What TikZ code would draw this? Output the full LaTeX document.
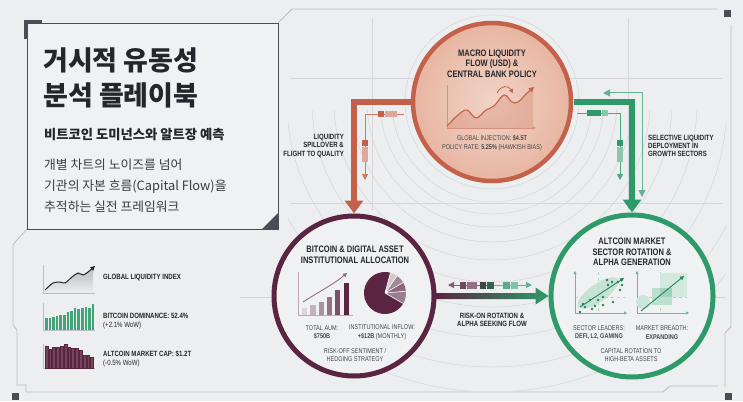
\documentclass[tikz,border=0pt]{standalone}
\usepackage{fontspec}
\setmainfont{Liberation Sans}
\newfontfamily\kr{Noto Sans CJK KR}
\newfontfamily\cf[FakeStretch=0.8]{Liberation Sans}
\usetikzlibrary{arrows.meta,calc}
\definecolor{bg}{HTML}{ECEEF0}
\definecolor{boxbg}{HTML}{EFF1F3}
\definecolor{ink}{HTML}{24262B}
\definecolor{orng}{HTML}{C4614A}
\definecolor{salmonin}{HTML}{F1D3C6}
\definecolor{salmonout}{HTML}{E8B6A2}
\definecolor{maroon}{HTML}{5A2540}
\definecolor{grn}{HTML}{2E9A6A}
\definecolor{framec}{HTML}{B9BDC4}
\definecolor{faint}{HTML}{D3D6DB}
\definecolor{darksq}{HTML}{4A4D55}
\tikzset{
  ctitle/.style={font=\cf\bfseries\fontsize{9.4}{10.6}\selectfont, align=center, inner sep=0pt, text=ink},
  csmall/.style={font=\cf\fontsize{6.9}{8.6}\selectfont, align=center, inner sep=0pt, text=ink!85},
  sidelbl/.style={font=\cf\bfseries\fontsize{7.6}{8.2}\selectfont, inner sep=0pt, text=ink},
  leglbl/.style={font=\cf\bfseries\fontsize{7.6}{9}\selectfont, inner sep=0pt, text=ink, anchor=west, align=left},
  bigring/.style={circle, minimum size=158pt, inner sep=0pt, line width=5pt},
  thickarrow/.style={line width=6pt, -{Triangle[width=18pt,length=13pt]}},
  thinarrow/.style={line width=1pt, -{Triangle[width=6pt,length=6pt]}},
  framel/.style={draw=framec, line width=0.8pt},
}
\begin{document}
\begin{tikzpicture}[x=1pt,y=-1pt]
\useasboundingbox (0,0) rectangle (743,401);
\fill[bg] (0,0) rectangle (743,401);

% faint background grid and arcs
\draw[faint, line width=0.5pt] (290,78) -- (722,78) (290,203) -- (722,203)
  (372,18) -- (372,210) (628,18) -- (628,210) (240,297) -- (725,297);
\draw[faint, line width=0.5pt] (492,102) circle[radius=87];
\begin{scope}
  \clip (288,110) rectangle (726,390);
  \foreach \r in {100,112,125,140,158,180,205,235,265,290}
    \draw[faint, line width=0.5pt] (492,102) circle[radius=\r];
\end{scope}

% outer decorative frame
\draw[framel] (278,23) -- (292,9) -- (717,9);
\fill[darksq] (724,10) rectangle (731,17);
\draw[framel] (731,25) -- (731,327) -- (725,333) -- (725,387);
\fill[darksq] (725,393) rectangle (732,400);
\draw[framel] (27,229) -- (17,240) -- (13,245) -- (13,325) -- (17,330) -- (17,385) -- (26,385) -- (26,392) -- (663,392) -- (670,386) -- (718,386);
\fill[darksq] (12,393) rectangle (19,400);

% title box
\draw[fill=boxbg, draw=darksq, line width=0.8pt] (27,23) rectangle (278,229);
\draw[darksq, line width=3pt] (25,39) -- (25,21.5) -- (42,21.5);
\fill[darksq] (262,229) -- (278,229) -- (278,213) -- cycle;
\node[font=\kr\bfseries\fontsize{27}{35}\selectfont, anchor=west, align=left, inner sep=0pt, text=ink] (ttl) at (43,77.5) {거시적 유동성\\분석 플레이북};
\node[font=\kr\bfseries\fontsize{13.3}{16}\selectfont, anchor=west, inner sep=0pt, text=ink] (sub) at (44,135) {비트코인 도미넌스와 알트장 예측};
\node[font=\kr\fontsize{12.8}{21}\selectfont, anchor=west, align=left, inner sep=0pt, text=ink!90] (body) at (44,186) {개별 차트의 노이즈를 넘어\\기관의 자본 흐름(Capital Flow)을\\추적하는 실전 프레임워크};

% circle positions (for connectors)
\coordinate (mc) at (492,102);
\coordinate (bc) at (354,296);
\coordinate (ac) at (632,296);
\path (mc) node[bigring] (macro) {};
\path (bc) node[bigring, minimum size=160pt] (btc) {};
\path (ac) node[bigring, minimum size=162pt] (alt) {};

% thick connectors
\draw[orng, thickarrow] (macro.west) -| (btc.north);
\draw[grn, thickarrow, line width=5.5pt] (macro.east) -| (alt.north);
\shade[left color=maroon, right color=grn]
  ($(btc.east)+(0,-3)$) -- ($(alt.west)+(-13,-3)$) -- ($(alt.west)+(-13,-8.5)$) -- (alt.west)
  -- ($(alt.west)+(-13,8.5)$) -- ($(alt.west)+(-13,3)$) -- ($(btc.east)+(0,3)$) -- cycle;

% thin orange connector
\coordinate (o1) at (404,114);
\coordinate (o2) at (365,180);
\draw[orng!85, thinarrow] (o1) -| (o2);
\fill[orng] (378,111) rectangle (384,117);
\fill[orng!55] (385,111) rectangle (397,117);
\fill[orng] (362,140) rectangle (368,146);
\fill[orng!55] (362,147) rectangle (368,162);

% thin green connectors
\coordinate (g1) at (577,113);
\coordinate (g2) at (620,180);
\draw[grn!85, thinarrow] (g1) -| (g2);
\fill[grn] (587,110) rectangle (601,116);
\fill[grn!55] (602,110) rectangle (608,116);
\fill[grn] (617,140) rectangle (623,146);
\fill[grn!55] (617,147) rectangle (623,162);
\coordinate (g3) at (603,93);
\coordinate (g4) at (642,197);
\draw[grn!75, line width=1pt, {Triangle[width=7pt,length=7pt]}-{Triangle[width=7pt,length=7pt]}] (g3) -| (g4);

% thin middle double arrow
\coordinate (d1) at (448,285);
\coordinate (dm) at (490,285);
\coordinate (d2) at (532,285);
\draw[maroon!75, line width=0.9pt, {Triangle[width=6pt,length=6pt]}-] (d1) -- (dm);
\draw[grn!75, line width=0.9pt, -{Triangle[width=6pt,length=6pt]}] (dm) -- (d2);
\fill[maroon!85] (460,281.5) rectangle (466,288.5);
\fill[maroon!65] (467,281.5) rectangle (477,288.5);
\fill[maroon!55!grn!80!black] (480,281.5) rectangle (486,288.5);
\fill[maroon!35!grn!85!black] (487,281.5) rectangle (494,288.5);
\fill[grn!80] (503,281.5) rectangle (510,288.5);
\fill[grn!60] (511,281.5) rectangle (518,288.5);

% circles drawn on top
\path (mc) node[bigring, draw=orng, line width=4.5pt, inner color=salmonin, outer color=salmonout] {};
\path (bc) node[bigring, minimum size=160pt, draw=maroon, fill=boxbg] {};
\path (ac) node[bigring, minimum size=162pt, draw=grn, fill=boxbg] {};

% ---- macro circle contents
\node[ctitle] (mtitle) at (492,63.5) {MACRO LIQUIDITY\\FLOW (USD) \&\\CENTRAL BANK POLICY};
\fill[orng, opacity=0.22] plot[smooth, tension=0.6] coordinates {(447,126) (458,115) (467,110) (476,118) (486,110) (494,106) (504,95) (512,102) (518,102) (526,94) (533,88)} -- (533,128) -- (447,128) -- cycle;
\draw[orng!70, line width=0.6pt] (447,85) -- (447,128);
\draw[orng!70, line width=0.6pt, -{Triangle[width=3.5pt,length=3.5pt]}] (447,128) -- (536,128);
\draw[orng, line width=1.1pt, -{Triangle[width=5pt,length=5pt]}] plot[smooth, tension=0.6] coordinates {(447,126) (458,115) (467,110) (476,118) (486,110) (494,106) (504,95) (512,102) (518,102) (526,94) (534,87)};
\draw[orng, line width=0.8pt, -{Triangle[width=4pt,length=4pt]}] (497,93) .. controls (501,85) and (508,85) .. (513,93);
\node[csmall] (minfo) at (492,143) {GLOBAL INJECTION: \textbf{\$4.5T}\\POLICY RATE: \textbf{5.25\%} (HAWKISH BIAS)};

% ---- bitcoin circle contents
\node[ctitle] (btitle) at (355,254.5) {BITCOIN \& DIGITAL ASSET\\INSTITUTIONAL ALLOCATION};
\draw[maroon!40, line width=0.6pt] (298,272) -- (298,315) -- (353,315);
\foreach \h/\c [count=\i from 0] in {308/20,305/35,302/50,297/65,290/80,283/100}
  \fill[maroon!\c!white] ({302+\i*8.3},\h) rectangle ++(5.2,{315-\h});
\draw[maroon!70, line width=0.8pt, -{Triangle[width=4pt,length=4pt]}] (303,302) .. controls (320,291) and (334,284) .. (347,273);
\fill[maroon] (385,293) -- ++(30:21) arc[start angle=30, end angle=285, radius=21] -- cycle;
\fill[maroon!25!white] (385,293) -- ++(-75:21) arc[start angle=-75, end angle=-55, radius=21] -- cycle;
\fill[maroon!55!white] (385,293) -- ++(-55:21) arc[start angle=-55, end angle=-30, radius=21] -- cycle;
\fill[maroon!70!white] (385,293) -- ++(-30:21) arc[start angle=-30, end angle=-5, radius=21] -- cycle;
\fill[maroon!60!white] (385,293) -- ++(-5:21) arc[start angle=-5, end angle=30, radius=21] -- cycle;
\draw[white, line width=0.6pt] (385,293) -- ++(-75:21) (385,293) -- ++(-55:21) (385,293) -- ++(-30:21) (385,293) -- ++(-5:21) (385,293) -- ++(30:21);
\node[csmall] (aum) at (322,332.5) {TOTAL AUM:\\\textbf{\$750B}};
\node[csmall] (inflow) at (382,332.5) {INSTITUTIONAL INFLOW:\\\textbf{+\$12B} (MONTHLY)};
\node[csmall] (riskoff) at (355,355) {RISK-OFF SENTIMENT /\\HEDGING STRATEGY};

% ---- altcoin circle contents
\node[ctitle] (atitle) at (632,252) {ALTCOIN MARKET\\SECTOR ROTATION \&\\ALPHA GENERATION};
\draw[grn!40, line width=0.5pt, dashed] (575,297) -- (625,297) (598,272) -- (598,313);
\draw[grn!70, line width=0.6pt, -{Triangle[width=3pt,length=3pt]}] (575,313) -- (575,271);
\draw[grn!70, line width=0.6pt, -{Triangle[width=3pt,length=3pt]}] (575,313) -- (627,313);
\fill[grn!30, opacity=0.85, rotate around={35:(598,293)}] (598,293) ellipse[x radius=24, y radius=9];
\foreach \p in {(580,312),(585,307),(590,300),(595,306),(598,300),(603,297),(607,280),(608,285),(612,282),(613,302),(618,282),(620,290),(622,285),(583,304),(592,309),(603,305)}
  \fill[grn!85!black] \p circle[radius=1.4];
\draw[grn!85!black, line width=0.9pt, -{Triangle[width=4pt,length=4pt]}] (580,307) -- (624,278);
\draw[grn!40, line width=0.5pt, dashed] (637,297) -- (687,297) (660,272) -- (660,313);
\draw[grn!70, line width=0.6pt, -{Triangle[width=3pt,length=3pt]}] (637,313) -- (637,271);
\draw[grn!70, line width=0.6pt, -{Triangle[width=3pt,length=3pt]}] (637,313) -- (689,313);
\fill[grn!22] (660,273) rectangle (687,297);
\fill[grn!32] (652,288) rectangle (672,305);
\fill[grn!45] (660,288) rectangle (672,297);
\fill[grn!25] (643,302) circle[radius=7];
\draw[grn!85!black, line width=0.9pt, -{Triangle[width=4pt,length=4pt]}] (641,311) -- (684,276);
\node[csmall] (leaders) at (599,332.5) {SECTOR LEADERS:\\\textbf{DEFI, L2, GAMING}};
\node[csmall] (breadth) at (662,332.5) {MARKET BREADTH:\\\textbf{EXPANDING}};
\node[csmall] (rotation) at (631,355) {CAPITAL ROTATION TO\\HIGH-BETA ASSETS};

% ---- connector labels
\node[sidelbl, anchor=east, align=right] (lspill) at (344,146) {LIQUIDITY\\SPILLOVER \&\\FLIGHT TO QUALITY};
\node[sidelbl, anchor=west, align=left] (lsel) at (648,146) {SELECTIVE LIQUIDITY\\DEPLOYMENT IN\\GROWTH SECTORS};
\node[sidelbl, align=center] (lrisk) at (492,320) {RISK-ON ROTATION \&\\ALPHA SEEKING FLOW};

% ---- legend
\shade[top color=gray!55, bottom color=bg] plot[smooth, tension=0.5] coordinates {(45,290) (53,283) (60,282) (65,283) (72,277) (78,273) (83,275) (88,272) (93,267)} -- (93,293) -- (45,293) -- cycle;
\draw[framec, line width=0.8pt] (43,265) -- (43,293) -- (95,293);
\draw[ink, line width=1pt, -{Triangle[width=4.5pt,length=4.5pt]}] plot[smooth, tension=0.5] coordinates {(45,290) (53,283) (60,282) (65,283) (72,277) (78,273) (83,275) (88,272) (95,266)};
\node[leglbl] (leg1) at (103,278) {GLOBAL LIQUIDITY INDEX};

\draw[framec, line width=0.8pt] (43,303) -- (43,330) -- (95,330);
\foreach \h [count=\i from 0] in {318,318,317,316,315,315,312,311,308,309,308,307,308,304}
  \fill[grn!90] ({45+\i*3.6},\h) rectangle ++(2.6,{330-\h});
\node[leglbl] (leg2) at (103,321.5) {BITCOIN DOMINANCE: 52.4\%\\\mdseries (+2.1\% WoW)};

\draw[framec, line width=0.8pt] (43,344) -- (43,368) -- (95,368);
\foreach \h [count=\i from 0] in {346,349,347,347,346,344,347,348,348,350,355,355,357}
  \fill[maroon!85, draw=maroon, line width=0.3pt] ({45+\i*3.8},\h) rectangle ++(2.7,{368-\h});
\node[leglbl] (leg3) at (103,358.5) {ALTCOIN MARKET CAP: \$1.2T\\\mdseries (-0.5\% WoW)};
\end{tikzpicture}
\end{document}
